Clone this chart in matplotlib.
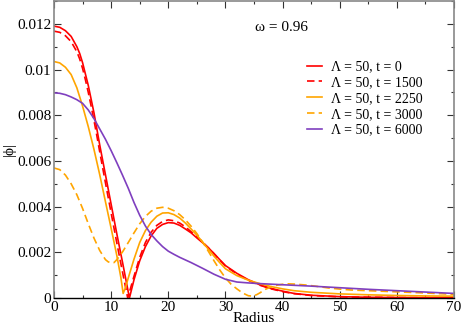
import matplotlib
matplotlib.use("Agg")
import matplotlib.pyplot as plt
from matplotlib.ticker import MultipleLocator

plt.rcParams["font.family"] = ["Liberation Serif", "DejaVu Serif"]

# |phi| profiles
R_T0 = [0, 1, 2, 3, 4, 4.5, 5, 5.5, 6, 6.5, 7, 7.5, 8, 9, 10, 11, 12, 13.2, 14, 15, 16, 17,
        18, 19, 20, 21, 22, 23, 24, 25, 26, 27, 28, 29, 30, 32, 34, 36, 38, 40, 42, 45,
        50, 55, 60, 70]
V_T0 = [0.01190, 0.01185, 0.0117, 0.01145, 0.0110, 0.0107, 0.0103, 0.0098, 0.0093, 0.0087,
        0.0081, 0.0074, 0.0067, 0.0054, 0.0041, 0.0028, 0.00155, 0.0, 0.0008, 0.00163,
        0.00225, 0.00272, 0.00305, 0.00322, 0.0033, 0.00328, 0.00318, 0.00302, 0.00285,
        0.00263, 0.00242, 0.0022, 0.00195, 0.00168, 0.00142, 0.00108, 0.0008, 0.00058,
        0.00042, 0.0003, 0.0002, 0.00012, 0.00006, 0.00003, 0.00002, 0.00001]

R_T1500 = [0, 1, 2, 3, 4, 4.5, 5, 5.5, 6, 6.5, 7, 7.5, 8, 9, 10, 11, 12, 12.9, 14, 15, 16,
           17, 18, 19, 20, 21, 22, 23, 24, 25, 26, 27, 28, 29, 30, 32, 34, 36, 38, 40, 42,
           45, 50, 60, 70]
V_T1500 = [0.01168, 0.01163, 0.01148, 0.01122, 0.01078, 0.01046, 0.01005, 0.00955, 0.009,
           0.0084, 0.00777, 0.0071, 0.0064, 0.00505, 0.00372, 0.0024, 0.00112, 0.0, 0.00095,
           0.00178, 0.00243, 0.00288, 0.00318, 0.00335, 0.00342, 0.00338, 0.00328, 0.00311,
           0.0029, 0.00268, 0.00245, 0.0022, 0.00193, 0.00166, 0.0014, 0.00105, 0.00077,
           0.00056, 0.0004, 0.00028, 0.00019, 0.00011, 0.00005, 0.00002, 0.00001]

R_T2250 = [0, 1, 2, 3, 4, 5, 6, 7, 8, 9, 10, 11, 11.7, 12.1, 12.5, 13, 14, 15, 16, 17, 18,
           19, 20, 21, 22, 23, 24, 25, 26, 27, 28, 29, 30, 32, 34, 36, 38, 40, 42, 45, 50,
           55, 60, 65, 70]
V_T2250 = [0.01035, 0.01029, 0.0101, 0.00978, 0.0092, 0.0084, 0.0075, 0.0065, 0.0054,
           0.00422, 0.00305, 0.00185, 0.0009, 0.0002, 0.00045, 0.00088, 0.0017, 0.00243,
           0.00295, 0.00332, 0.00358, 0.00372, 0.00373, 0.00365, 0.0035, 0.00328, 0.00302,
           0.00275, 0.00245, 0.00214, 0.00183, 0.00155, 0.00128, 0.00098, 0.00078, 0.00063,
           0.0005, 0.0004, 0.00032, 0.00025, 0.00018, 0.00014, 0.00011, 0.00009, 0.00008]

R_T3000 = [0, 1, 2, 3, 4, 5, 6, 7, 8, 9, 9.5, 10, 10.5, 11, 12, 13, 14, 15, 16, 17, 18,
           19, 20, 21, 22, 23, 24, 25, 26, 27, 28, 29, 30, 31, 32, 33, 34, 34.8, 35.5, 36,
           37, 38, 39, 40, 41, 42, 44, 46, 48, 50, 52, 55, 60, 65, 70]
V_T3000 = [0.00569, 0.00562, 0.00538, 0.005, 0.00452, 0.00392, 0.00325, 0.00262, 0.00208,
           0.00168, 0.00158, 0.00154, 0.00155, 0.00168, 0.00202, 0.00243, 0.00285, 0.00325,
           0.00357, 0.0038, 0.00393, 0.00397, 0.00393, 0.00382, 0.00365, 0.00342, 0.00314,
           0.00282, 0.00245, 0.00205, 0.00163, 0.00123, 0.00088, 0.0006, 0.0004, 0.00022,
           0.0001, 0.00008, 0.00015, 0.00022, 0.00038, 0.00049, 0.00056, 0.0006, 0.00062,
           0.00061, 0.00057, 0.00051, 0.00044, 0.00039, 0.00035, 0.00032, 0.00027, 0.00022,
           0.00016]

R_T6000 = [0, 1, 2, 3, 4, 5, 6, 7, 8, 9, 10, 11, 12, 13, 14, 15, 16, 17, 18, 19, 20, 21,
           22, 24, 26, 28, 30, 32, 34, 36, 40, 45, 50, 55, 60, 65, 70]
V_T6000 = [0.00898, 0.00896, 0.0089, 0.0088, 0.00868, 0.00852, 0.00823, 0.00785, 0.0074,
           0.00695, 0.00645, 0.00592, 0.00537, 0.0048, 0.00418, 0.00362, 0.00315, 0.00278,
           0.00250, 0.00225, 0.00205, 0.00191, 0.00178, 0.00155, 0.0013, 0.00104, 0.00082,
           0.0007, 0.00066, 0.00063, 0.00058, 0.00052, 0.00045, 0.00038, 0.00032, 0.00026,
           0.0002]

RED = "#ff0000"
ORANGE = "#ffa500"
PURPLE = "#7f3fbf"
DASH = (0, (4.5, 2.5))

fig = plt.figure(figsize=(4.63, 3.27), dpi=100)
ax = fig.add_axes([54 / 463, 1 - 298 / 327, 400 / 463, 297 / 327])

lw = 1.2
ax.plot(R_T0, V_T0, color=RED, lw=lw, label="Λ = 50, t = 0")
ax.plot(R_T1500, V_T1500, color=RED, lw=lw, ls=DASH, label="Λ = 50, t = 1500")
ax.plot(R_T2250, V_T2250, color=ORANGE, lw=lw, label="Λ = 50, t = 2250")
ax.plot(R_T3000, V_T3000, color=ORANGE, lw=lw, ls=DASH, label="Λ = 50, t = 3000")
ax.plot(R_T6000, V_T6000, color=PURPLE, lw=lw, label="Λ = 50, t = 6000")

ax.set_xlim(0, 70)
ax.set_ylim(0, 0.013)
ax.xaxis.set_major_locator(MultipleLocator(10))
ax.xaxis.set_minor_locator(MultipleLocator(5))
ax.yaxis.set_minor_locator(MultipleLocator(0.001))
ax.set_yticks([0, 0.002, 0.004, 0.006, 0.008, 0.01, 0.012])
ax.set_yticklabels(["0", "0.002", "0.004", "0.006", "0.008", "0.01", "0.012"])
ax.tick_params(which="both", direction="in", top=True, right=True, labelsize=11,
               width=0.8, color="#333333", pad=2)
ax.tick_params(which="major", length=5)
ax.tick_params(which="minor", length=2.5)
for s in ("left", "top", "right"):
    ax.spines[s].set_color("#888888")
    ax.spines[s].set_linewidth(1.2)
ax.spines["bottom"].set_color("black")
ax.spines["bottom"].set_linewidth(1.0)

ax.set_xlabel("Radius", fontsize=11, labelpad=-1)
ax.set_ylabel("|ϕ|", fontsize=11, labelpad=1)

ax.text(0.5025, 0.912, "ω = 0.96", transform=ax.transAxes, fontsize=11,
        ha="left", va="center")

ax.legend(loc="upper left", bbox_to_anchor=(0.6325, 0.80), frameon=False,
          fontsize=10, handlelength=1.1, handletextpad=0.6, labelspacing=0.2,
          borderaxespad=0, borderpad=0)

fig.savefig("out.png", dpi=100)
